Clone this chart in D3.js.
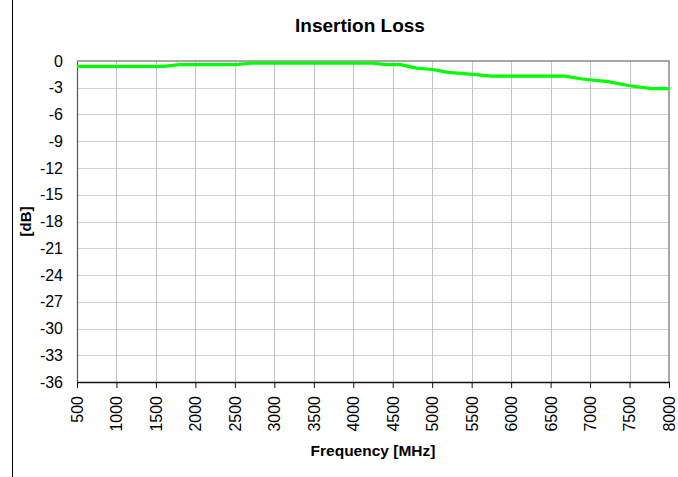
<!DOCTYPE html>
<html>
<head>
<meta charset="utf-8">
<script src="https://cdn.jsdelivr.net/npm/d3@7"></script>
<style>
html,body{margin:0;padding:0;background:#fff;}
svg{display:block;font-family:"Liberation Sans",Arial,sans-serif;}
</style>
</head>
<body>
<svg id="chart" width="678" height="477"></svg>
<script>
const titleText = "Insertion Loss";
const xLabel = "Frequency [MHz]";
const yLabel = "[dB]";
const freqs = [500, 1000, 1600, 1800, 2500, 2700, 3000, 3500, 4000, 4250, 4420, 4600, 4800, 5000, 5200, 5480, 5750, 6000, 6500, 6680, 6900, 7230, 7500, 7780, 8000];
const loss  = [-0.6, -0.6, -0.6, -0.4, -0.4, -0.25, -0.25, -0.25, -0.25, -0.25, -0.4, -0.4, -0.8, -0.95, -1.28, -1.48, -1.7, -1.7, -1.7, -1.7, -2.02, -2.32, -2.78, -3.1, -3.1];
const xTicks = [500, 1000, 1500, 2000, 2500, 3000, 3500, 4000, 4500, 5000, 5500, 6000, 6500, 7000, 7500, 8000];
const yTicks = [0, -3, -6, -9, -12, -15, -18, -21, -24, -27, -30, -33, -36];

const svg = d3.select("#chart");
const L = 77, R = 669, T = 61, B = 382;
const x = d3.scaleLinear().domain([500, 8000]).range([L, R]);
const y = d3.scaleLinear().domain([-36, 0]).range([B, T]);
const fmt = d => String(d);

// outer left border line
svg.append("line").attr("x1", 12.5).attr("x2", 12.5).attr("y1", 0).attr("y2", 477)
  .attr("stroke", "#000").attr("stroke-width", 1);

// gridlines
svg.append("g").selectAll("line").data(yTicks.filter(d => d !== 0 && d !== -36)).join("line")
  .attr("x1", L).attr("x2", R).attr("y1", d => Math.round(y(d)) + 0.5).attr("y2", d => Math.round(y(d)) + 0.5)
  .attr("stroke", "#cfcfcf").attr("stroke-width", 1);
svg.append("g").selectAll("line").data(xTicks.filter(d => d !== 500 && d !== 8000)).join("line")
  .attr("y1", T).attr("y2", B).attr("x1", d => Math.round(x(d)) + 0.5).attr("x2", d => Math.round(x(d)) + 0.5)
  .attr("stroke", "#c4c4c4").attr("stroke-width", 1);

// top & right border
svg.append("path").attr("d", `M${L},${T}H${R}V${B}`).attr("fill", "none")
  .attr("stroke", "#8a8a8a").attr("stroke-width", 1.5);

// axes
const yAxis = d3.axisLeft(y).tickValues(yTicks).tickSize(0).tickPadding(14).tickFormat(fmt);
const gy = svg.append("g").attr("transform", `translate(${L},0)`).call(yAxis);
gy.select(".domain").attr("stroke", "#555").attr("stroke-width", 1.2);
gy.selectAll("text").attr("font-size", 16).attr("fill", "#000").attr("font-family", "Liberation Sans, Arial, sans-serif");

const xAxis = d3.axisBottom(x).tickValues(xTicks).tickSizeInner(6).tickSizeOuter(0).tickPadding(0).tickFormat(fmt);
const gx = svg.append("g").attr("transform", `translate(0,${B})`).call(xAxis);
gx.select(".domain").attr("stroke", "#111").attr("stroke-width", 1.5);
gx.selectAll(".tick line").attr("stroke", "#111");
gx.selectAll("text").attr("font-size", 16).attr("fill", "#000").attr("font-family", "Liberation Sans, Arial, sans-serif")
  .attr("transform", "rotate(-90)").attr("text-anchor", "end").attr("x", -14).attr("y", 0).attr("dy", "0.34em");

// line
const line = d3.line().x((d, i) => x(freqs[i])).y(d => y(d));
svg.append("path").datum(loss).attr("d", line).attr("fill", "none")
  .attr("stroke", "#00ff00").attr("stroke-width", 3.2).attr("stroke-linejoin", "round");

// titles
svg.append("text").attr("x", 360).attr("y", 32).attr("text-anchor", "middle")
  .attr("font-size", 19).attr("font-weight", "bold").text(titleText);
svg.append("text").attr("x", 373).attr("y", 456).attr("text-anchor", "middle")
  .attr("font-size", 15.5).attr("font-weight", "bold").text(xLabel);
svg.append("text").attr("transform", `translate(31,${(T + B) / 2}) rotate(-90)`).attr("text-anchor", "middle")
  .attr("font-size", 15).attr("font-weight", "bold").text(yLabel);
</script>
</body>
</html>
